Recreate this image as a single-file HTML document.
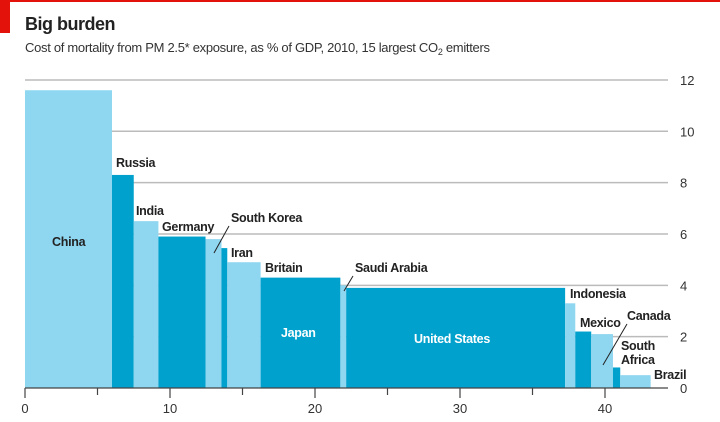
<!DOCTYPE html>
<html><head><meta charset="utf-8"><style>
body{margin:0;background:#fff;width:720px;height:417px;overflow:hidden;font-family:"Liberation Sans",sans-serif}
</style></head><body>
<svg width="720" height="417" xmlns="http://www.w3.org/2000/svg">
<rect x="0" y="0" width="720" height="2" fill="#e3120b"/>
<rect x="0" y="0" width="10" height="33" fill="#e3120b"/>
<text x="25" y="30" font-size="18" font-weight="bold" fill="#222" letter-spacing="-0.5">Big burden</text>
<text x="25" y="52" font-size="13" fill="#333" letter-spacing="-0.3">Cost of mortality from PM 2.5* exposure, as % of GDP, 2010, 15 largest CO<tspan font-size="9" dy="3">2</tspan><tspan dy="-3"> emitters</tspan></text>
<g id="grid"></g><g id="bars"></g><g id="labels"></g><g id="axis"></g>
</svg>
<script>
const countries=["China","Russia","India","Germany","South Korea","Iran","Britain","Japan","Saudi Arabia","United States","Indonesia","Mexico","Canada","South Africa","Brazil"];
const widths=[6.0,1.5,1.7,3.25,1.1,0.4,2.3,5.5,0.4,15.1,0.7,1.1,1.5,0.5,2.1];
const costs=[11.6,8.3,6.5,5.9,5.8,5.45,4.9,4.3,4.0,3.9,3.3,2.2,2.1,0.8,0.5];
const yTicks=[0,2,4,6,8,10,12];
const xTicks=[0,10,20,30,40];
const NS="http://www.w3.org/2000/svg";
const X=v=>25+v*14.5, Y=v=>388-v*25.67;
function mk(t,a,p){const e=document.createElementNS(NS,t);for(const k in a)e.setAttribute(k,a[k]);document.getElementById(p).appendChild(e);return e;}
yTicks.forEach(t=>{
 if(t>0){const l=mk('line',{x1:25,x2:668,y1:Y(t),y2:Y(t),stroke:'#bbb','stroke-width':1.5},'grid');
 
 }
 const tx=mk('text',{x:680,y:Y(t)+5,'font-size':13,fill:'#333'},'axis');tx.textContent=t;
 
 
});
let cum=0;
const light='#8fd6f0',dark='#00a1cc';
countries.forEach((c,i)=>{
 const r=mk('rect',{x:X(cum),y:Y(costs[i]),width:X(cum+widths[i])-X(cum),height:Y(0)-Y(costs[i]),fill:i%2?dark:light},'bars');
 
 
 cum+=widths[i];
});
const base=mk('line',{x1:25,x2:668,y1:388,y2:388,stroke:'#444','stroke-width':1.2},'axis');


for(let v=0;v<=40;v+=5){
 const tk=mk('line',{x1:X(v),x2:X(v),y1:388,y2:v%10?395:398,stroke:'#444','stroke-width':1.2},'axis');
 
 
}
xTicks.forEach(t=>{const tx=mk('text',{x:X(t),y:413,'font-size':13,fill:'#333','text-anchor':'middle'},'axis');tx.textContent=t;
 
 });
const labs=[["China",52,246,'#222'],["Russia",116,167,'#222'],["India",136,215,'#222'],["Germany",162,231,'#222'],["South Korea",231,222,'#222'],["Iran",231,257,'#222'],["Britain",265,272,'#222'],["Japan",281,337,'#fff'],["Saudi Arabia",355,272,'#222'],["United States",414,343,'#fff'],["Indonesia",570,298,'#222'],["Mexico",580,327,'#222'],["Canada",627,320,'#222'],["South",621,350,'#222'],["Africa",621,364,'#222'],["Brazil",654,379,'#222']];
labs.forEach(l=>{const tx=mk('text',{x:l[1],y:l[2],'font-size':12.5,'font-weight':'bold',fill:l[3],'letter-spacing':'-0.3'},'labels');tx.textContent=l[0];
 
 });
[[229,226,214,253],[353,276,344,291],[627,324,603,365]].forEach(p=>{const ln=mk('line',{x1:p[0],y1:p[1],x2:p[2],y2:p[3],stroke:'#222','stroke-width':1},'labels');
 
 });
</script>
</body></html>
